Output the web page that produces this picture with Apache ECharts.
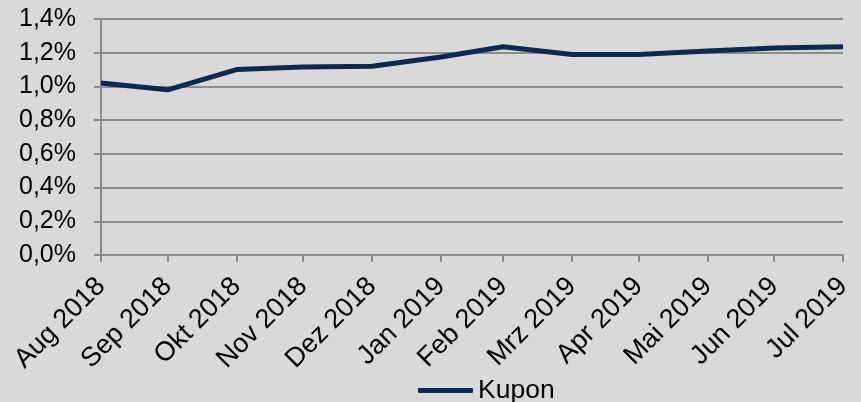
<!DOCTYPE html>
<html>
<head>
<meta charset="utf-8">
<script src="https://cdn.jsdelivr.net/npm/echarts@6/dist/echarts.min.js"></script>
<style>
html,body{margin:0;padding:0;background:#d9d9d9;}
#chart{width:861px;height:402px;}
</style>
</head>
<body>
<div id="chart"></div>
<script>
const categories = ['Aug 2018','Sep 2018','Okt 2018','Nov 2018','Dez 2018','Jan 2019','Feb 2019','Mrz 2019','Apr 2019','Mai 2019','Jun 2019','Jul 2019'];
const dates = ['2018-08-31','2018-09-30','2018-10-31','2018-11-30','2018-12-31','2019-01-31','2019-02-28','2019-03-31','2019-04-30','2019-05-31','2019-06-30','2019-07-31'];
const kupon = [1.02, 0.98, 1.10, 1.115, 1.12, 1.175, 1.235, 1.19, 1.19, 1.21, 1.228, 1.235];
const seriesName = 'Kupon';

// day offsets of each date from the first one (date axis spacing)
const dayMs = 86400000;
function utc(d) { const p = d.split('-').map(Number); return Date.UTC(p[0], p[1] - 1, p[2]); }
const days = dates.map(d => Math.round((utc(d) - utc(dates[0])) / dayMs));
function labelFor(v) {
  let best = 0, bd = Infinity;
  days.forEach((t, i) => { const dd = Math.abs(t - v); if (dd < bd) { bd = dd; best = i; } });
  return categories[best];
}

const chart = echarts.init(document.getElementById('chart'));
const gray = '#8c8c8c';
const lineColor = '#0c2a4f';
const font = "'Liberation Sans', Arial, sans-serif";
chart.setOption({
  backgroundColor: '#d9d9d9',
  animation: false,
  textStyle: { fontFamily: font },
  grid: { left: 101, right: 18, top: 19, bottom: 147, containLabel: false },
  xAxis: {
    type: 'value',
    min: days[0],
    max: days[days.length - 1],
    axisLine: { show: true, onZero: false, lineStyle: { color: gray, width: 2 } },
    axisTick: { show: true, length: 7, lineStyle: { color: gray, width: 2 }, customValues: days },
    splitLine: { show: false },
    axisLabel: {
      customValues: days,
      rotate: 45,
      margin: 27,
      color: '#000',
      fontSize: 27,
      fontFamily: font,
      formatter: v => labelFor(v)
    }
  },
  yAxis: {
    type: 'value',
    min: 0,
    max: 1.4,
    interval: 0.2,
    axisLine: { show: true, lineStyle: { color: gray, width: 2 } },
    axisTick: { show: true, length: 7, lineStyle: { color: gray, width: 2 } },
    splitLine: { show: true, lineStyle: { color: gray, width: 2 } },
    axisLabel: {
      margin: 25,
      color: '#000',
      fontSize: 25,
      fontFamily: font,
      formatter: v => v.toFixed(1).replace('.', ',') + '%'
    }
  },
  legend: {
    show: true,
    top: 372,
    left: 413,
    itemWidth: 55,
    itemHeight: 5,
    itemGap: 5,
    textStyle: { color: '#000', fontSize: 26.5, fontFamily: font },
    data: [{ name: seriesName, icon: 'roundRect' }]
  },
  series: [{
    name: seriesName,
    type: 'line',
    data: days.map((t, i) => [t, kupon[i]]),
    symbol: 'none',
    lineStyle: { color: lineColor, width: 5 },
    itemStyle: { color: lineColor }
  }]
});
</script>
</body>
</html>
